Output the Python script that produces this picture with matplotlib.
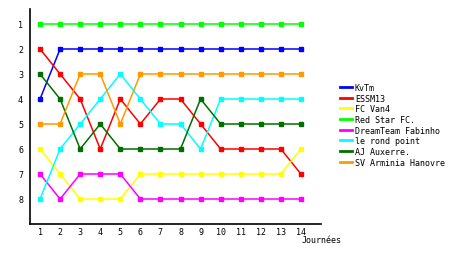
import matplotlib.pyplot as plt

# ranking per matchday (journée)
journees = list(range(1, 15))
teams = ["KvTm", "ESSM13", "FC Van4", "Red Star FC.", "DreamTeam Fabinho",
         "le rond point", "AJ Auxerre.", "SV Arminia Hanovre"]
kvtm = [4, 2, 2, 2, 2, 2, 2, 2, 2, 2, 2, 2, 2, 2]
essm13 = [2, 3, 4, 6, 4, 5, 4, 4, 5, 6, 6, 6, 6, 7]
fc_van4 = [6, 7, 8, 8, 8, 7, 7, 7, 7, 7, 7, 7, 7, 6]
red_star = [1, 1, 1, 1, 1, 1, 1, 1, 1, 1, 1, 1, 1, 1]
dreamteam = [7, 8, 7, 7, 7, 8, 8, 8, 8, 8, 8, 8, 8, 8]
rond_point = [8, 6, 5, 4, 3, 4, 5, 5, 6, 4, 4, 4, 4, 4]
auxerre = [3, 4, 6, 5, 6, 6, 6, 6, 4, 5, 5, 5, 5, 5]
arminia = [5, 5, 3, 3, 5, 3, 3, 3, 3, 3, 3, 3, 3, 3]
series = [kvtm, essm13, fc_van4, red_star, dreamteam, rond_point, auxerre, arminia]
colors = ["#0000ff", "#ff0000", "#ffff00", "#00ff00", "#ff00ff",
          "#00ffff", "#006f00", "#ff9900"]

plt.rcParams["font.family"] = "DejaVu Sans Mono"

fig = plt.figure(figsize=(4.6, 2.55), dpi=100)
ax = fig.add_axes([30 / 460, 1 - 225 / 255, 291 / 460, 215 / 255])

for vals, name, c in zip(series, teams, colors):
    ax.plot(journees, vals, color=c, lw=1.1, marker="s", ms=2.5,
            mec=c, mfc=c, label=name)

ax.set_xlim(0.5, 15)
ax.set_ylim(9, 0.4)
ax.set_xticks(journees)
ax.set_yticks(range(1, 9))
ax.tick_params(length=0, labelsize=6)
ax.tick_params(axis="x", pad=2)
ax.tick_params(axis="y", pad=5)
for s in ["top", "right"]:
    ax.spines[s].set_visible(False)
for s in ["left", "bottom"]:
    ax.spines[s].set_linewidth(1.2)

fig.text(302 / 460, 1 - 241 / 255, "Journées", fontsize=6, va="center")

handles, labels = ax.get_legend_handles_labels()
handles = [plt.Line2D([], [], color=h.get_color(), lw=2) for h in handles]
fig.legend(handles, labels, loc="upper left", bbox_to_anchor=(340 / 460, 1 - 84 / 255),
           frameon=False, fontsize=6, handlelength=1.4, handletextpad=0.4,
           labelspacing=0.2, borderpad=0, borderaxespad=0)

fig.savefig("out.png", dpi=100)
